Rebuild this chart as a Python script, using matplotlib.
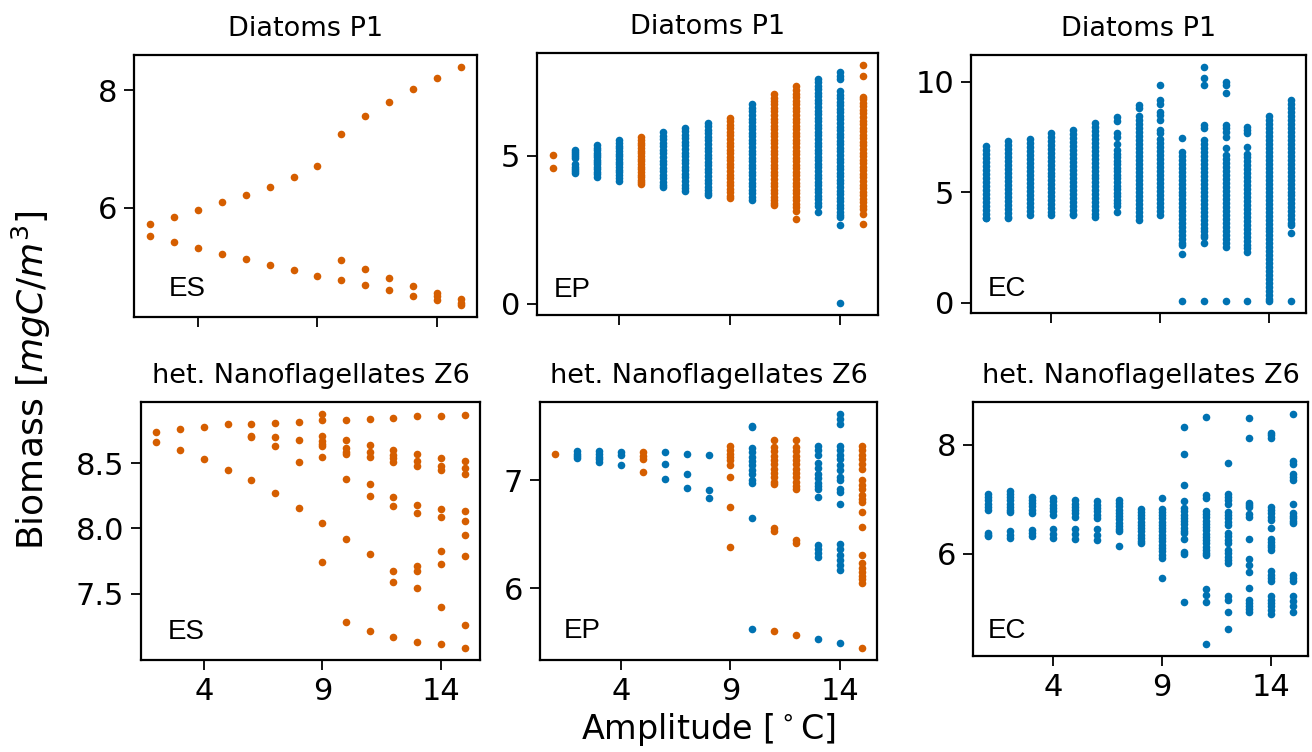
import matplotlib
matplotlib.use("Agg")
import matplotlib.pyplot as plt

# ---------------- data ----------------
BLUE = "#0072b2"
ORANGE = "#d55e00"

amp_es = [2, 3, 4, 5, 6, 7, 8, 9, 10, 11, 12, 13, 14, 15]
amp_all = [1, 2, 3, 4, 5, 6, 7, 8, 9, 10, 11, 12, 13, 14, 15]
ep_orange_amps = [1, 5, 9, 11, 12, 15]

# Diatoms P1 - ES
es_p1 = [
    [5.73, 5.51],
    [5.84, 5.41],
    [5.96, 5.31],
    [6.09, 5.21],
    [6.22, 5.12],
    [6.36, 5.02],
    [6.52, 4.93],
    [6.71, 4.83],
    [7.25, 5.11, 4.76],
    [7.57, 4.95, 4.68],
    [7.81, 4.80, 4.59],
    [8.02, 4.66, 4.50],
    [8.21, 4.54, 4.49, 4.42],
    [8.40, 4.44, 4.38, 4.34],
]

# Diatoms P1 - EP
ep_p1 = [
    [5.02, 4.57],
    [5.19, 5.12, 5.05, 4.98, 4.92, 4.70, 4.62, 4.55, 4.48, 4.40],
    [5.34, 5.26, 5.18, 5.10, 5.02, 4.94, 4.86, 4.78, 4.70, 4.62, 4.54, 4.46, 4.38, 4.29],
    [5.51, 5.42, 5.33, 5.24, 5.15, 5.06, 4.97, 4.88, 4.79, 4.70, 4.61, 4.52, 4.43, 4.34, 4.25, 4.15],
    [5.62, 5.53, 5.44, 5.35, 5.26, 5.17, 5.08, 4.99, 4.90, 4.81, 4.72, 4.63, 4.54, 4.45, 4.36, 4.27, 4.18, 4.10, 4.04],
    [5.79, 5.67, 5.55, 5.43, 5.31, 5.19, 5.07, 4.95, 4.83, 4.71, 4.59, 4.47, 4.35, 4.23, 4.11, 3.99, 3.93],
    [5.94, 5.82, 5.70, 5.58, 5.46, 5.34, 5.22, 5.10, 4.98, 4.86, 4.74, 4.62, 4.50, 4.38, 4.26, 4.14, 4.02, 3.90, 3.79],
    [6.11, 5.99, 5.87, 5.75, 5.63, 5.51, 5.39, 5.27, 5.15, 5.03, 4.91, 4.79, 4.67, 4.55, 4.43, 4.31, 4.19, 4.07, 3.95, 3.83, 3.72, 3.67],
    [6.28, 6.16, 6.04, 5.92, 5.80, 5.68, 5.56, 5.44, 5.32, 5.20, 5.08, 4.96, 4.84, 4.72, 4.60, 4.48, 4.36, 4.24, 4.12, 4.00, 3.88, 3.76, 3.64, 3.56],
    [6.73, 6.61, 6.49, 6.37, 6.25, 6.13, 6.01, 5.89, 5.77, 5.65, 5.53, 5.41, 5.29, 5.17, 5.05, 4.93, 4.81, 4.69, 4.57, 4.45, 4.33, 4.21, 4.09, 3.97, 3.85, 3.73, 3.61, 3.50],
    [7.09, 6.95, 6.85, 6.73, 6.61, 6.49, 6.37, 6.25, 6.13, 6.01, 5.89, 5.77, 5.65, 5.53, 5.41, 5.29, 5.17, 5.05, 4.93, 4.81, 4.69, 4.57, 4.45, 4.33, 4.21, 4.09, 3.97, 3.85, 3.73, 3.61, 3.49, 3.40, 3.34],
    [7.34, 7.21, 7.09, 6.97, 6.85, 6.73, 6.61, 6.49, 6.37, 6.25, 6.13, 6.01, 5.89, 5.77, 5.65, 5.53, 5.41, 5.29, 5.17, 5.05, 4.93, 4.81, 4.69, 4.57, 4.45, 4.33, 4.21, 4.09, 3.97, 3.85, 3.73, 3.61, 3.49, 3.37, 3.25, 3.13, 2.85],
    [7.60, 7.48, 7.36, 7.24, 7.12, 7.00, 6.88, 6.76, 6.64, 6.52, 6.40, 6.28, 6.16, 6.04, 5.92, 5.80, 5.68, 5.56, 5.44, 5.32, 5.20, 5.08, 4.96, 4.84, 4.72, 4.60, 4.48, 4.36, 4.24, 4.12, 4.00, 3.88, 3.76, 3.64, 3.52, 3.40, 3.30, 3.11],
    [7.81, 7.70, 7.58, 7.18, 7.06, 6.94, 6.82, 6.70, 6.58, 6.46, 6.34, 6.22, 6.10, 5.98, 5.86, 5.74, 5.62, 5.50, 5.38, 5.26, 5.14, 5.02, 4.90, 4.78, 4.66, 4.54, 4.42, 4.30, 4.18, 4.06, 3.94, 3.82, 3.70, 3.58, 3.46, 3.34, 3.22, 3.10, 2.98, 2.91, 2.66, 0.02],
    [8.06, 7.68, 6.98, 6.90, 6.78, 6.66, 6.54, 6.42, 6.30, 6.18, 6.06, 5.94, 5.82, 5.70, 5.58, 5.46, 5.34, 5.22, 5.10, 4.98, 4.86, 4.74, 4.62, 4.50, 4.38, 4.26, 4.14, 4.02, 3.90, 3.78, 3.66, 3.54, 3.42, 3.30, 3.18, 3.02, 2.68],
]

# Diatoms P1 - EC
ec_p1 = [
    [7.09, 6.91, 6.73, 6.55, 6.37, 6.19, 6.01, 5.83, 5.65, 5.47, 5.29, 5.11, 4.93, 4.75, 4.57, 4.39, 4.21, 4.03, 3.85, 3.81],
    [7.31, 7.13, 6.95, 6.77, 6.59, 6.41, 6.23, 6.05, 5.87, 5.69, 5.51, 5.33, 5.15, 4.97, 4.79, 4.61, 4.43, 4.25, 4.07, 3.89, 3.81],
    [7.39, 7.21, 7.03, 6.85, 6.67, 6.49, 6.31, 6.13, 5.95, 5.77, 5.59, 5.41, 5.23, 5.05, 4.87, 4.69, 4.51, 4.33, 4.15, 3.96],
    [7.69, 7.51, 7.33, 7.15, 6.97, 6.79, 6.61, 6.43, 6.25, 6.07, 5.89, 5.71, 5.53, 5.35, 5.17, 4.99, 4.81, 4.63, 4.45, 4.27, 4.09, 3.96],
    [7.81, 7.63, 7.45, 7.27, 7.09, 6.91, 6.73, 6.55, 6.37, 6.19, 6.01, 5.83, 5.65, 5.47, 5.29, 5.11, 4.93, 4.75, 4.57, 4.39, 4.21, 4.03, 3.96],
    [8.14, 7.96, 7.78, 7.60, 7.42, 7.24, 7.06, 6.88, 6.70, 6.52, 6.34, 6.16, 5.98, 5.80, 5.62, 5.44, 5.26, 5.08, 4.90, 4.72, 4.54, 4.36, 4.18, 4.00, 3.88],
    [8.41, 8.23, 7.66, 7.48, 7.18, 6.90, 6.74, 6.58, 6.42, 6.26, 6.10, 5.94, 5.78, 5.62, 5.46, 5.30, 5.14, 4.98, 4.82, 4.66, 4.50, 4.36, 4.11],
    [8.94, 8.79, 8.44, 8.25, 8.07, 7.89, 7.71, 7.53, 7.35, 7.17, 6.99, 6.81, 6.63, 6.45, 6.27, 6.09, 5.91, 5.73, 5.55, 5.37, 5.19, 5.01, 4.83, 4.65, 4.47, 4.29, 4.11, 3.93, 3.73],
    [9.85, 9.17, 9.00, 8.65, 8.50, 8.28, 7.82, 7.67, 7.40, 7.22, 7.04, 6.86, 6.68, 6.50, 6.32, 6.14, 5.96, 5.78, 5.60, 5.42, 5.24, 5.06, 4.88, 4.70, 4.52, 4.34, 4.16, 3.96],
    [7.46, 6.83, 6.65, 6.47, 6.29, 6.11, 5.93, 5.75, 5.57, 5.39, 5.21, 5.03, 4.85, 4.67, 4.49, 4.31, 4.13, 3.95, 3.77, 3.59, 3.41, 3.23, 3.05, 2.87, 2.70, 2.60, 2.22, 0.06],
    [10.68, 10.15, 9.85, 8.04, 7.89, 7.36, 7.18, 7.00, 6.82, 6.64, 6.46, 6.28, 6.10, 5.92, 5.74, 5.56, 5.38, 5.20, 5.02, 4.84, 4.66, 4.48, 4.30, 4.12, 3.94, 3.76, 3.58, 3.40, 3.22, 3.04, 2.98, 2.70, 0.06],
    [10.00, 9.85, 9.47, 8.04, 7.89, 7.74, 7.51, 6.98, 6.68, 6.50, 6.32, 6.14, 5.96, 5.78, 5.60, 5.42, 5.24, 5.06, 4.88, 4.70, 4.52, 4.34, 4.16, 3.98, 3.80, 3.62, 3.44, 3.26, 3.08, 2.90, 2.72, 2.52, 0.06],
    [7.93, 7.80, 7.66, 7.05, 6.75, 6.57, 6.39, 6.21, 6.03, 5.85, 5.67, 5.49, 5.31, 5.13, 4.95, 4.77, 4.59, 4.41, 4.23, 4.05, 3.87, 3.69, 3.51, 3.33, 3.15, 2.97, 2.79, 2.61, 2.45, 2.30, 0.06],
    [8.44, 8.26, 8.08, 7.90, 7.72, 7.54, 7.36, 7.18, 7.00, 6.82, 6.64, 6.46, 6.28, 6.10, 5.92, 5.74, 5.56, 5.38, 5.20, 5.02, 4.84, 4.66, 4.48, 4.30, 4.12, 3.94, 3.76, 3.58, 3.40, 3.22, 3.04, 2.86, 2.68, 2.50, 2.32, 2.14, 1.96, 1.78, 1.60, 1.42, 1.24, 1.06, 0.88, 0.70, 0.52, 0.34, 0.16, 0.06],
    [9.17, 8.99, 8.81, 8.63, 8.45, 8.27, 8.09, 7.91, 7.73, 7.55, 7.37, 7.19, 7.01, 6.83, 6.65, 6.47, 6.29, 6.11, 5.93, 5.75, 5.57, 5.39, 5.21, 5.03, 4.85, 4.67, 4.49, 4.31, 4.13, 3.95, 3.77, 3.59, 3.50, 3.13, 0.06],
]

# het. Nanoflagellates Z6 - ES
es_z6 = [
    [8.74, 8.66],
    [8.76, 8.60],
    [8.78, 8.53],
    [8.80, 8.45],
    [8.80, 8.71, 8.70, 8.37],
    [8.81, 8.70, 8.63, 8.27],
    [8.82, 8.68, 8.51, 8.16],
    [8.88, 8.83, 8.71, 8.67, 8.65, 8.63, 8.55, 8.04, 7.74],
    [8.83, 8.68, 8.62, 8.59, 8.57, 8.38, 7.92, 7.28],
    [8.84, 8.64, 8.59, 8.55, 8.34, 8.25, 7.80, 7.21],
    [8.85, 8.60, 8.56, 8.54, 8.51, 8.24, 8.17, 7.67, 7.59, 7.17],
    [8.86, 8.57, 8.52, 8.48, 8.18, 8.12, 7.71, 7.67, 7.54, 7.13],
    [8.86, 8.54, 8.48, 8.45, 8.15, 8.09, 7.83, 7.73, 7.40, 7.11],
    [8.87, 8.52, 8.46, 8.42, 8.13, 8.06, 7.95, 7.79, 7.26, 7.08],
]

# het. Nanoflagellates Z6 - EP
ep_z6 = [
    [7.25],
    [7.27, 7.25, 7.23, 7.21],
    [7.27, 7.25, 7.22, 7.20, 7.17],
    [7.26, 7.24, 7.14],
    [7.26, 7.23, 7.20, 7.08],
    [7.26, 7.15, 7.01],
    [7.25, 7.06, 6.93],
    [7.24, 6.91, 6.84],
    [7.32, 7.28, 7.25, 7.22, 7.19, 7.14, 7.03, 6.75, 6.38],
    [7.51, 7.50, 7.30, 7.26, 7.22, 7.18, 7.14, 7.10, 7.06, 7.00, 6.98, 6.65, 5.62],
    [7.38, 7.31, 7.27, 7.23, 7.19, 7.15, 7.11, 7.07, 7.03, 6.99, 6.97, 6.56, 6.53, 5.60],
    [7.38, 7.31, 7.27, 7.23, 7.19, 7.15, 7.11, 7.07, 7.03, 6.99, 6.95, 6.92, 6.45, 6.42, 5.56],
    [7.32, 7.28, 7.24, 7.16, 7.12, 7.06, 7.02, 6.98, 6.95, 6.92, 6.85, 6.40, 6.36, 6.33, 6.29, 5.53],
    [7.62, 7.57, 7.52, 7.32, 7.28, 7.24, 7.20, 7.14, 7.10, 7.03, 7.00, 6.92, 6.89, 6.78, 6.41, 6.36, 6.31, 6.26, 6.21, 6.17, 5.49],
    [7.32, 7.28, 7.24, 7.20, 7.15, 7.11, 7.00, 6.96, 6.92, 6.86, 6.83, 6.80, 6.71, 6.57, 6.31, 6.23, 6.19, 6.15, 6.11, 6.08, 6.05, 5.44],
]

# het. Nanoflagellates Z6 - EC
ec_z6 = [
    [7.10, 7.04, 6.98, 6.92, 6.86, 6.80, 6.39, 6.35, 6.32],
    [7.16, 7.10, 7.04, 6.98, 6.92, 6.86, 6.80, 6.77, 6.41, 6.35, 6.29],
    [7.05, 6.99, 6.93, 6.87, 6.81, 6.75, 6.44, 6.39, 6.33],
    [7.02, 6.96, 6.90, 6.84, 6.78, 6.71, 6.45, 6.37, 6.29],
    [6.98, 6.92, 6.86, 6.80, 6.74, 6.68, 6.45, 6.36, 6.28],
    [6.96, 6.90, 6.84, 6.78, 6.72, 6.65, 6.45, 6.35, 6.25],
    [6.99, 6.93, 6.87, 6.81, 6.75, 6.69, 6.63, 6.57, 6.51, 6.45, 6.41, 6.15],
    [6.83, 6.77, 6.71, 6.65, 6.59, 6.53, 6.47, 6.41, 6.35, 6.29, 6.23, 6.19],
    [7.03, 6.83, 6.77, 6.71, 6.65, 6.59, 6.53, 6.47, 6.41, 6.35, 6.29, 6.23, 6.17, 6.11, 6.05, 5.98, 5.92, 5.56],
    [8.33, 7.82, 7.27, 6.96, 6.84, 6.78, 6.72, 6.66, 6.60, 6.54, 6.48, 6.42, 6.38, 6.27, 6.04, 5.99, 5.12],
    [8.50, 7.07, 7.03, 6.79, 6.73, 6.67, 6.61, 6.55, 6.49, 6.43, 6.37, 6.31, 6.25, 6.19, 6.13, 6.07, 6.01, 5.98, 5.36, 5.24, 5.12, 4.34],
    [7.66, 7.10, 7.04, 6.98, 6.92, 6.77, 6.71, 6.65, 6.59, 6.53, 6.38, 6.32, 6.26, 6.19, 6.07, 6.01, 5.95, 5.89, 5.83, 5.22, 5.16, 4.94, 4.63],
    [8.49, 8.13, 6.93, 6.89, 6.86, 6.73, 6.68, 6.27, 5.91, 5.80, 5.66, 5.37, 5.16, 5.10, 5.04, 4.99, 4.94],
    [8.22, 8.17, 8.12, 6.86, 6.80, 6.74, 6.68, 6.62, 6.47, 6.27, 6.22, 6.17, 6.13, 6.07, 5.69, 5.62, 5.55, 5.50, 5.22, 5.16, 5.10, 5.04, 4.97, 4.90],
    [8.57, 7.70, 7.65, 7.47, 7.41, 7.36, 6.91, 6.74, 6.69, 6.65, 6.60, 6.56, 5.62, 5.56, 5.50, 5.22, 5.13, 5.04, 4.94],
]

titles = ["Diatoms P1", "het. Nanoflagellates Z6"]
region_labels = ["ES", "EP", "EC"]
x_ticks = [4, 9, 14]
y_ticks = {
    (0, 0): [6, 8], (0, 1): [0, 5], (0, 2): [0, 5, 10],
    (1, 0): [7.5, 8.0, 8.5], (1, 1): [6, 7], (1, 2): [6, 8],
}

# ---------------- figure ----------------
plt.rcParams["font.family"] = "DejaVu Sans"
fig = plt.figure(figsize=(13.12, 7.52), dpi=100)

W, H = 1312.0, 752.0
boxes = {  # left, right, top, bottom in pixels
    (0, 0): (134, 477, 55, 317),
    (0, 1): (537, 878, 53, 315),
    (0, 2): (971, 1306, 55, 313),
    (1, 0): (141, 480, 402, 660),
    (1, 1): (540, 877, 402, 660),
    (1, 2): (973, 1308, 402, 656),
}
label_pos = {
    (0, 0): (0.10, 0.08), (0, 1): (0.05, 0.07), (0, 2): (0.05, 0.066),
    (1, 0): (0.08, 0.08), (1, 1): (0.07, 0.085), (1, 2): (0.045, 0.07),
}

data = {
    (0, 0): (amp_es, es_p1), (0, 1): (amp_all, ep_p1), (0, 2): (amp_all, ec_p1),
    (1, 0): (amp_es, es_z6), (1, 1): (amp_all, ep_z6), (1, 2): (amp_all, ec_z6),
}


def col_color(key, amp):
    if key[1] == 0:
        return ORANGE
    if key[1] == 1:
        return ORANGE if amp in ep_orange_amps else BLUE
    return BLUE


axes = {}
for key, (l, r, t, b) in boxes.items():
    ax = fig.add_axes([l / W, 1 - b / H, (r - l) / W, (b - t) / H])
    axes[key] = ax
    amps, cols = data[key]
    for amp, vals in zip(amps, cols):
        ax.scatter([amp] * len(vals), vals, s=30, color=col_color(key, amp),
                   linewidths=0, zorder=3)
    ax.set_title(titles[key[0]], fontsize=19.5, pad=14)
    ax.set_xticks(x_ticks)
    if key[0] == 0:
        ax.set_xticklabels([])
    ax.set_yticks(y_ticks[key])
    if key == (1, 0):
        ax.set_yticklabels(["7.5", "8.0", "8.5"])
    ax.tick_params(axis="both", labelsize=22, length=7, width=1.3, pad=5)
    for sp in ax.spines.values():
        sp.set_linewidth(1.6)
    lx, ly = label_pos[key]
    ax.text(lx, ly, region_labels[key[1]], transform=ax.transAxes,
            fontsize=20, family="Liberation Sans", ha="left", va="baseline")

axes[(1, 1)].set_xlabel("Amplitude [$^\\circ$C]", fontsize=24, labelpad=4)
fig.text(0.024, 0.495, "Biomass [$mgC/m^3$]", rotation=90, fontsize=26,
         ha="center", va="center")

fig.savefig("out.png", dpi=100)
